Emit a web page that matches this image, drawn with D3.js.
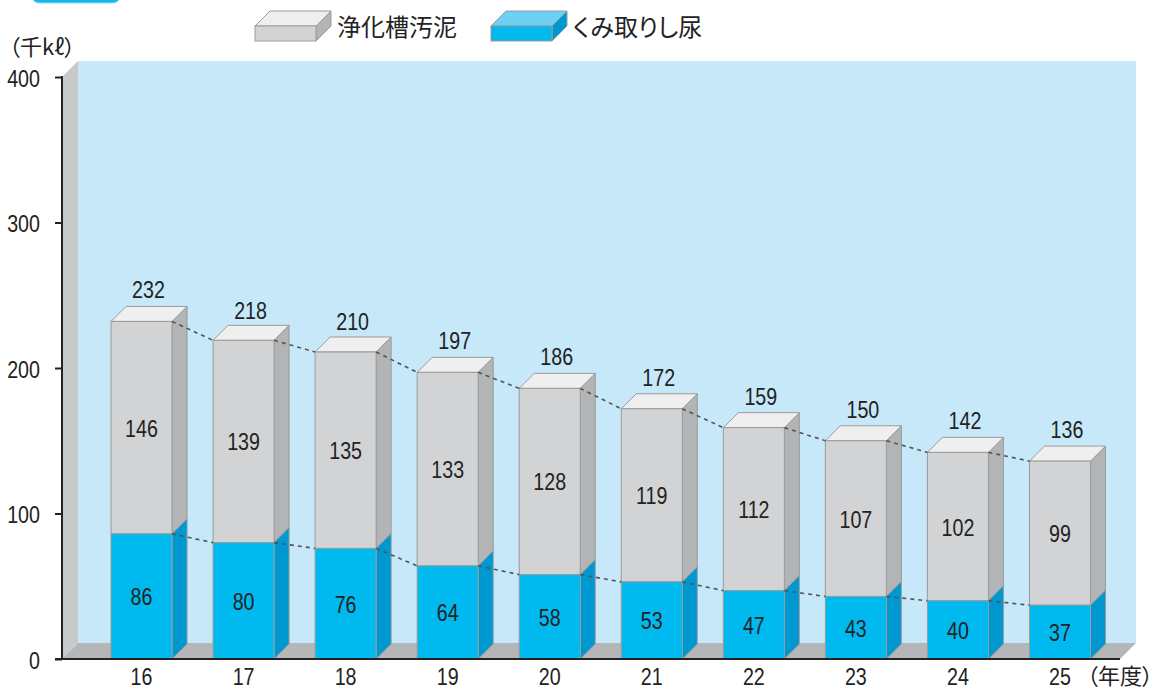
<!DOCTYPE html>
<html><head><meta charset="utf-8">
<script src="https://cdn.jsdelivr.net/npm/d3@7"></script>
<style>
html,body{margin:0;padding:0;background:#fff;}
svg{display:block;}
.num{font-family:"Liberation Sans Narrow","Liberation Sans",Arial,sans-serif;}
.jp{font-family:"Noto Sans CJK JP","Noto Sans",sans-serif;font-feature-settings:"palt";}
</style></head>
<body>
<script>
const categories = ["16","17","18","19","20","21","22","23","24","25"];
const sludge = [146,139,135,133,128,119,112,107,102,99];      // 浄化槽汚泥
const nightSoil = [86,80,76,64,58,53,47,43,40,37];            // くみ取りし尿
const totals = [232,218,210,197,186,172,159,150,142,136];
const yTicks = [0,100,200,300,400];
const seriesNames = ["浄化槽汚泥","くみ取りし尿"];

const W = 1157, H = 689;
const SX = 0.82; // horizontal condensing for the narrow numeric font
const svg = d3.select("body").append("svg").attr("width", W).attr("height", H);

const y = d3.scaleLinear().domain([0,400]).range([659,77]);
const x = d3.scaleBand().domain(categories).range([90.5,1111]).paddingInner(0.402).paddingOuter(0.201);
const D = 16;   // depth offset of back wall
const d = 15;   // bar depth offset
const axisX = 62, axisRight = 1120;

// title badge (cut off at top)
svg.append("rect").attr("x",32).attr("y",-20).attr("width",88).attr("height",23).attr("rx",7)
  .attr("fill","#16b6ec").attr("stroke","#8fd9f5").attr("stroke-width",1);

// back panel
svg.append("rect").attr("x",axisX+D).attr("y",y(400)-D).attr("width",axisRight+D-(axisX+D)).attr("height",y(0)-y(400))
  .attr("fill","#c6e8f8");
// left wall
svg.append("path").attr("d",`M${axisX},${y(400)} L${axisX+D},${y(400)-D} L${axisX+D},${y(0)-D} L${axisX},${y(0)} Z`)
  .attr("fill","#c8c9cb");
// floor
svg.append("path").attr("d",`M${axisX},${y(0)} L${axisX+D},${y(0)-D} L${axisRight+D},${y(0)-D} L${axisRight},${y(0)} Z`)
  .attr("fill","#b5b6b8");

// bars
const stroke = "#9a9b9d";
function box(g, x0, w, yTop, yBot, front, side, top, drawTop){
  g.append("path").attr("d",`M${x0+w},${yTop} L${x0+w+d},${yTop-d} L${x0+w+d},${yBot-d} L${x0+w},${yBot} Z`)
    .attr("fill",side).attr("stroke",stroke).attr("stroke-width",1);
  if(drawTop) g.append("path").attr("d",`M${x0},${yTop} L${x0+d},${yTop-d} L${x0+w+d},${yTop-d} L${x0+w},${yTop} Z`)
    .attr("fill",top).attr("stroke",stroke).attr("stroke-width",1);
  g.append("rect").attr("x",x0).attr("y",yTop).attr("width",w).attr("height",yBot-yTop)
    .attr("fill",front).attr("stroke",stroke).attr("stroke-width",1);
}
const bw = x.bandwidth();
const bars = svg.append("g");
categories.forEach((c,i)=>{
  const g = bars.append("g");
  const x0 = x(c);
  box(g, x0, bw, y(nightSoil[i]+sludge[i]), y(nightSoil[i]), "#d2d3d5", "#b3b4b6", "#efefef", true);
  box(g, x0, bw, y(nightSoil[i]), y(0), "#00b9ef", "#0098d0", "#6dd0f5", false);
});

// dashed trend lines
const dash = svg.append("g").attr("stroke","#555").attr("stroke-width",1.6).attr("stroke-dasharray","4,4").attr("fill","none");
for(let i=0;i<categories.length-1;i++){
  const xa = x(categories[i])+bw, xb = x(categories[i+1]);
  dash.append("line").attr("x1",xa).attr("y1",y(nightSoil[i]+sludge[i])).attr("x2",xb).attr("y2",y(nightSoil[i+1]+sludge[i+1]));
  dash.append("line").attr("x1",xa).attr("y1",y(nightSoil[i])).attr("x2",xb).attr("y2",y(nightSoil[i+1]));
}

// value labels
const lbl = svg.append("g").attr("class","num").attr("fill","#222").attr("font-size",24).attr("text-anchor","middle");
function numText(tx, ty, t){
  lbl.append("text").attr("transform",`translate(${tx},${ty}) scale(${SX},1)`).text(t);
}
categories.forEach((c,i)=>{
  const cx = x(c)+bw/2;
  numText(cx+7, y(totals[i])-23, totals[i]);
  numText(cx, (y(nightSoil[i]+sludge[i])+y(nightSoil[i]))/2+9, sludge[i]);
  numText(cx, (y(nightSoil[i])+y(0))/2+9, nightSoil[i]);
});

// axes
const yAxis = svg.append("g").attr("transform",`translate(${axisX},0)`)
  .call(d3.axisLeft(y).tickValues(yTicks).tickSize(7).tickPadding(15).tickFormat(d3.format("d")));
yAxis.select(".domain").remove();
yAxis.selectAll(".tick line").attr("stroke","#222").attr("stroke-width",2);
yAxis.selectAll(".tick text").attr("class","num").attr("font-size",24).attr("fill","#222")
  .attr("dy",null).attr("y",9).attr("x",-22/SX).attr("transform",`scale(${SX},1)`);
svg.append("line").attr("x1",axisX).attr("x2",axisX).attr("y1",y(400)-1).attr("y2",y(0)+1).attr("stroke","#222").attr("stroke-width",2);
svg.append("line").attr("x1",55).attr("x2",axisRight).attr("y1",y(0)).attr("y2",y(0)).attr("stroke","#222").attr("stroke-width",2);

const xAxis = svg.append("g").attr("transform",`translate(0,${y(0)})`)
  .call(d3.axisBottom(x).tickSize(0).tickPadding(21));
xAxis.select(".domain").remove();
xAxis.selectAll(".tick text").attr("class","num").attr("font-size",24).attr("fill","#222")
  .attr("dy",null).attr("y",26).attr("transform",`scale(${SX},1)`);

svg.append("text").attr("class","jp").attr("x",1087).attr("y",684).attr("font-size",22).attr("fill","#222").text("（年度）");
svg.append("text").attr("class","jp").attr("x",9).attr("y",55).attr("font-size",22).attr("fill","#222").text("（千kℓ）");

// legend
const legend = svg.append("g");
const legendItems = [
  {x:255, front:"#d2d3d5", side:"#b3b4b6", top:"#efefef", name:seriesNames[0]},
  {x:491, front:"#00b9ef", side:"#0098d0", top:"#6dd0f5", name:seriesNames[1]}
];
legendItems.forEach(it=>{
  const g = legend.append("g");
  const w = 61, yt = 26, yb = 41;
  g.append("path").attr("d",`M${it.x+w},${yt} L${it.x+w+d},${yt-d} L${it.x+w+d},${yb-d} L${it.x+w},${yb} Z`).attr("fill",it.side).attr("stroke",stroke);
  g.append("path").attr("d",`M${it.x},${yt} L${it.x+d},${yt-d} L${it.x+w+d},${yt-d} L${it.x+w},${yt} Z`).attr("fill",it.top).attr("stroke",stroke);
  g.append("rect").attr("x",it.x).attr("y",yt).attr("width",w).attr("height",yb-yt).attr("fill",it.front).attr("stroke",stroke);
  g.append("text").attr("class","jp").attr("x",it.x+w+d+6).attr("y",36).attr("font-size",24).attr("fill","#222").text(it.name);
});
</script>
</body></html>
